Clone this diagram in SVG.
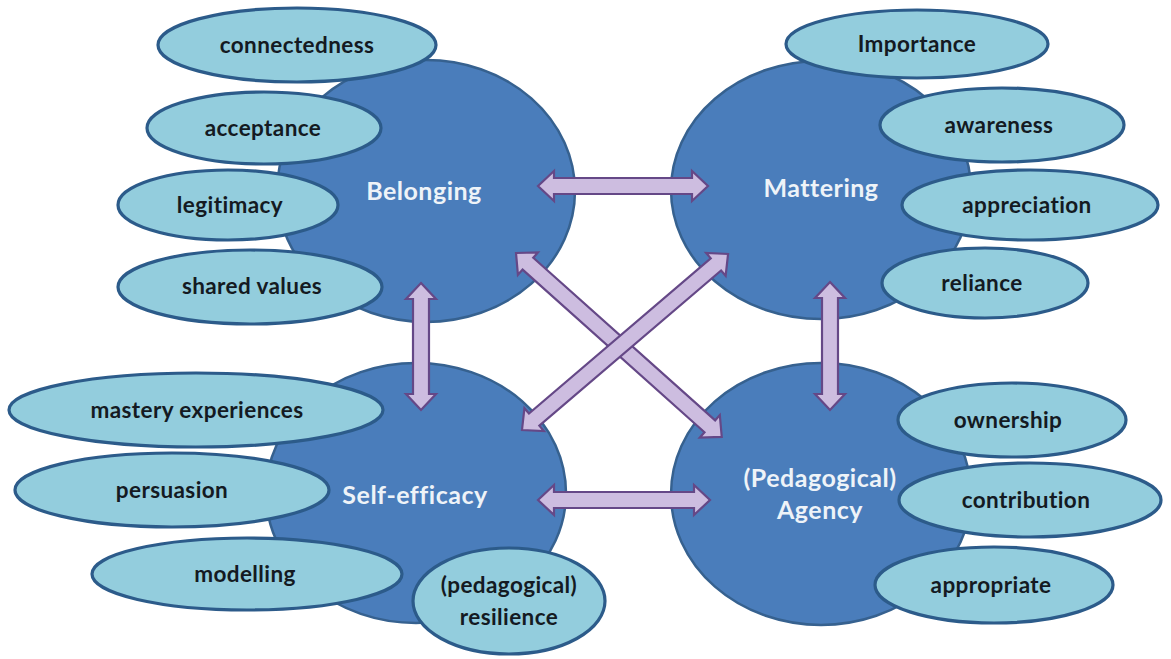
<svg xmlns="http://www.w3.org/2000/svg" width="1171" height="659" viewBox="0 0 1171 659">
<style>
.hub{fill:#4a7dbb;stroke:#36618f;stroke-width:2.5}
.sat{fill:#93cddd;stroke:#2c5b8a;stroke-width:3.2}
.hubt{font-family:Lato,"Open Sans",sans-serif;font-weight:bold;font-size:25px;letter-spacing:0.5px;fill:#eef3f8;text-anchor:middle}
.satt{font-family:Lato,"Open Sans",sans-serif;font-weight:bold;font-size:22.5px;letter-spacing:0.4px;fill:#141a22;text-anchor:middle}
.arr{fill:#cdbde0;stroke:#654887;stroke-width:2.2;stroke-linejoin:miter}
</style>
<rect width="1171" height="659" fill="#ffffff"/>
<g id="belonging">
<ellipse class="hub" cx="426" cy="191" rx="149" ry="131"/>
<ellipse class="sat" cx="297" cy="45" rx="139" ry="37"/>
<text class="satt" x="297" y="53">connectedness</text>
<ellipse class="sat" cx="264" cy="128" rx="117" ry="36"/>
<text class="satt" x="263" y="136">acceptance</text>
<ellipse class="sat" cx="228" cy="205" rx="110" ry="35"/>
<text class="satt" x="230" y="213">legitimacy</text>
<ellipse class="sat" cx="250" cy="287" rx="132" ry="37"/>
<text class="satt" x="252" y="294">shared values</text>
<text class="hubt" x="424" y="200">Belonging</text>
</g>
<g id="mattering">
<ellipse class="hub" cx="821" cy="190" rx="150" ry="129"/>
<ellipse class="sat" cx="917" cy="44" rx="131" ry="34"/>
<text class="satt" x="917" y="52">Importance</text>
<ellipse class="sat" cx="1002" cy="125" rx="122" ry="37"/>
<text class="satt" x="999" y="133">awareness</text>
<ellipse class="sat" cx="1030" cy="205" rx="128" ry="35"/>
<text class="satt" x="1027" y="213">appreciation</text>
<ellipse class="sat" cx="985" cy="283" rx="103" ry="35"/>
<text class="satt" x="982" y="291">reliance</text>
<text class="hubt" x="821" y="197">Mattering</text>
</g>
<g id="self-efficacy">
<ellipse class="hub" cx="416" cy="493" rx="150" ry="130"/>
<ellipse class="sat" cx="196" cy="410" rx="187" ry="37"/>
<text class="satt" x="197" y="418">mastery experiences</text>
<ellipse class="sat" cx="172" cy="490" rx="157" ry="37"/>
<text class="satt" x="172" y="498">persuasion</text>
<ellipse class="sat" cx="247" cy="574" rx="155" ry="36"/>
<text class="satt" x="245" y="582">modelling</text>
<ellipse class="sat" cx="509" cy="601" rx="96" ry="53"/>
<text class="satt" x="509" y="593">(pedagogical)</text>
<text class="satt" x="509" y="625">resilience</text>
<text class="hubt" x="415" y="504">Self-efficacy</text>
</g>
<g id="agency">
<ellipse class="hub" cx="821" cy="494" rx="150" ry="131"/>
<ellipse class="sat" cx="1012" cy="420" rx="114" ry="37"/>
<text class="satt" x="1008" y="428">ownership</text>
<ellipse class="sat" cx="1030" cy="500" rx="131" ry="37"/>
<text class="satt" x="1026" y="508">contribution</text>
<ellipse class="sat" cx="994" cy="585" rx="119" ry="38"/>
<text class="satt" x="991" y="593">appropriate</text>
<text class="hubt" x="820" y="487">(Pedagogical)</text>
<text class="hubt" x="820" y="519">Agency</text>
</g>
<g id="connectors">
<path class="arr" transform="translate(538,186)" d="M0,0 L16,-15 L16,-8 L154,-8 L154,-15 L170,0 L154,15 L154,8 L16,8 L16,15 Z"/>
<path class="arr" transform="translate(538,500)" d="M0,0 L16,-15 L16,-8 L156,-8 L156,-15 L172,0 L156,15 L156,8 L16,8 L16,15 Z"/>
<path class="arr" transform="translate(421,283) rotate(90)" d="M0,0 L16,-15 L16,-8 L111,-8 L111,-15 L127,0 L111,15 L111,8 L16,8 L16,15 Z"/>
<path class="arr" transform="translate(830,282) rotate(90)" d="M0,0 L16,-15 L16,-8 L112,-8 L112,-15 L128,0 L112,15 L112,8 L16,8 L16,15 Z"/>
<path class="arr" transform="translate(516,253) rotate(41.8)" d="M0,0 L16,-15 L16,-8 L260,-8 L260,-15 L276,0 L260,15 L260,8 L16,8 L16,15 Z"/>
<path class="arr" transform="translate(522,430) rotate(-40.5)" d="M0,0 L16,-15 L16,-8 L255,-8 L255,-15 L271,0 L255,15 L255,8 L16,8 L16,15 Z"/>
</g>
</svg>
